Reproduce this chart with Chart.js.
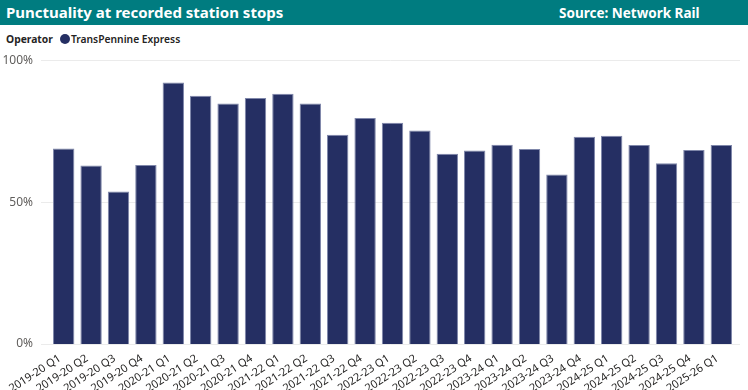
<!DOCTYPE html>
<html>
<head>
<meta charset="utf-8">
<script src="https://cdn.jsdelivr.net/npm/chart.js@4"></script>
<style>
  html, body { margin: 0; padding: 0; background: #fff; width: 748px; height: 390px; overflow: hidden; font-family: "Noto Sans", "Open Sans", sans-serif; }
  #header { position: absolute; left: 0; top: 0; width: 748px; height: 25px; background: #007C80; }
  #title { position: absolute; left: 6px; top: 1px; color: #fff; font-weight: bold; font-size: 15px; line-height: 22px; }
  #source { position: absolute; left: 559px; top: 3px; color: #fff; font-weight: bold; font-size: 13.5px; line-height: 20px; }
  #legend { position: absolute; left: 6px; top: 31px; font-size: 10.3px; color: #252423; line-height: 16px; white-space: nowrap; }
  #legend .lt { font-weight: bold; }
  #legend .dot { display: inline-block; width: 10px; height: 10px; border-radius: 50%; background: #252F63; margin-left: 7px; margin-right: 1px; vertical-align: -1px; }
  #legend .name { font-weight: 600; }
  #wrap { position: absolute; left: 0; top: 44px; width: 748px; height: 346px; }
</style>
</head>
<body>
<div id="header"><div id="title">Punctuality at recorded station stops</div><div id="source">Source: Network Rail</div></div>
<div id="legend"><span class="lt">Operator</span><span class="dot"></span><span class="name">TransPennine Express</span></div>
<div id="wrap"><canvas id="c" width="748" height="346"></canvas></div>
<script>
const categories = [
  "2019-20 Q1","2019-20 Q2","2019-20 Q3","2019-20 Q4",
  "2020-21 Q1","2020-21 Q2","2020-21 Q3","2020-21 Q4",
  "2021-22 Q1","2021-22 Q2","2021-22 Q3","2021-22 Q4",
  "2022-23 Q1","2022-23 Q2","2022-23 Q3","2022-23 Q4",
  "2023-24 Q1","2023-24 Q2","2023-24 Q3","2023-24 Q4",
  "2024-25 Q1","2024-25 Q2","2024-25 Q3","2024-25 Q4",
  "2025-26 Q1"
];
const seriesName = "TransPennine Express";
const punctuality = [
  68.9, 62.9, 53.7, 63.1,
  92.1, 87.5, 84.7, 86.7,
  88.2, 84.7, 73.7, 79.6,
  78.0, 75.2, 67.0, 68.2,
  70.2, 68.7, 59.7, 73.0,
  73.4, 70.1, 63.7, 68.4,
  70.1
];
const yTicks = [0, 50, 100];

const gridPlugin = {
  id: 'wideGrid',
  beforeDatasetsDraw(chart) {
    const ctx = chart.ctx, y = chart.scales.y;
    ctx.save();
    ctx.strokeStyle = '#EBEBEB';
    ctx.lineWidth = 1;
    yTicks.forEach(v => {
      const py = Math.round(y.getPixelForValue(v)) + 0.5;
      ctx.beginPath();
      ctx.moveTo(41, py);
      ctx.lineTo(740, py);
      ctx.stroke();
    });
    ctx.restore();
  }
};

new Chart(document.getElementById('c'), {
  type: 'bar',
  data: {
    labels: categories,
    datasets: [{
      label: seriesName,
      data: punctuality,
      backgroundColor: '#252F63',
      borderColor: '#7F87AA',
      borderWidth: 1,
      barPercentage: 0.78,
      categoryPercentage: 1.0
    }]
  },
  options: {
    responsive: false,
    animation: false,
    layout: { padding: { left: 0, right: 13, top: 7, bottom: 0 } },
    plugins: { legend: { display: false }, tooltip: { enabled: false } },
    scales: {
      x: {
        grid: { display: false },
        border: { display: false },
        afterFit(scale) { scale.height = 46; },
        ticks: {
          color: '#252423',
          font: { family: "Noto Sans", size: 11 },
          maxRotation: 33, minRotation: 33,
          autoSkip: false,
          labelOffset: -4,
          padding: 0
        }
      },
      y: {
        min: 0, max: 100,
        afterBuildTicks(scale) { scale.ticks = yTicks.map(v => ({ value: v })); },
        afterFit(scale) { scale.width = 50; },
        grid: { display: false },
        border: { display: false },
        ticks: {
          color: '#605E5C',
          font: { family: "Noto Sans", size: 12 },
          padding: 9,
          callback: v => v + '%'
        }
      }
    }
  },
  plugins: [gridPlugin]
});
</script>
</body>
</html>
